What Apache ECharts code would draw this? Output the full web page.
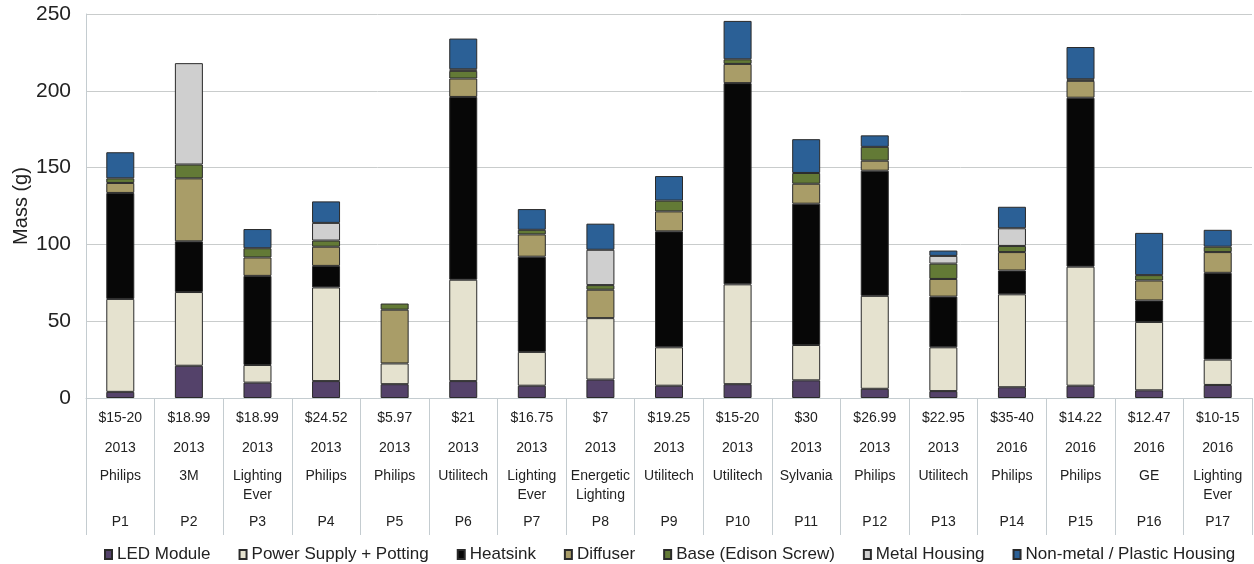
<!DOCTYPE html>
<html><head><meta charset="utf-8">
<script src="https://cdn.jsdelivr.net/npm/echarts@6/dist/echarts.min.js"></script>
<style>html,body{margin:0;padding:0;background:#fff}#c{width:1254px;height:564px}</style>
</head><body><div id="c"></div>
<script>
const categories = ['P1','P2','P3','P4','P5','P6','P7','P8','P9','P10','P11','P12','P13','P14','P15','P16','P17'];
const prices = ['$15-20','$18.99','$18.99','$24.52','$5.97','$21','$16.75','$7','$19.25','$15-20','$30','$26.99','$22.95','$35-40','$14.22','$12.47','$10-15'];
const years = ['2013','2013','2013','2013','2013','2013','2013','2013','2013','2013','2013','2013','2013','2016','2016','2016','2016'];
const brands = ['Philips','3M','Lighting\nEver','Philips','Philips','Utilitech','Lighting\nEver','Energetic\nLighting','Utilitech','Utilitech','Sylvania','Philips','Utilitech','Philips','Philips','GE','Lighting\nEver'];

const ledModule    = [4, 21, 10, 11, 9, 11, 8, 12, 8, 9, 11.5, 6, 4.5, 7, 8, 5, 8.5];
const powerSupply  = [60.5, 48, 11.5, 61, 13.5, 66, 22, 40, 25, 65, 23, 60.5, 28.5, 60.5, 77.5, 44.5, 16.5];
const heatsink     = [69, 33, 58, 14, 0, 119, 62, 0, 75.5, 131, 92, 81.5, 33, 15.5, 110, 14, 56.5];
const diffuser     = [6.5, 41, 12, 12.5, 35, 12, 14.5, 18.5, 13, 12.5, 13, 6.5, 11.5, 12, 11, 13, 13.5];
const base         = [3, 9, 6, 4, 4, 5, 3, 3, 7, 3, 7, 9, 10, 4, 1, 3.5, 3.5];
const metalHousing = [0, 66, 0, 11.5, 0, 1, 0, 23, 0, 0, 0, 0, 5, 11.5, 0, 0, 0];
const nonMetal     = [17, 0, 12.5, 14, 0, 20, 13.5, 17, 16, 25, 22, 7.5, 3.5, 14, 21, 27.5, 11];

const seriesDefs = [
  ['LED Module', ledModule, '#54426a'],
  ['Power Supply + Potting', powerSupply, '#e5e2cf'],
  ['Heatsink', heatsink, '#070707'],
  ['Diffuser', diffuser, '#a99d68'],
  ['Base (Edison Screw)', base, '#637a36'],
  ['Metal Housing', metalHousing, '#cfcfcf'],
  ['Non-metal / Plastic Housing', nonMetal, '#2b6096']
];

const chart = echarts.init(document.getElementById('c'));
chart.setOption({
  animation: false,
  textStyle: { fontFamily: 'Liberation Sans, Arial, sans-serif' },
  grid: { left: 86, right: 2, top: 14, bottom: 166, containLabel: false, outerBoundsMode: 'none' },
  legend: {
    top: 546, left: 104, padding: 0,
    itemWidth: 7, itemHeight: 9, itemGap: 28,
    icon: 'rect',
    textStyle: { fontSize: 17, color: '#222', fontFamily: 'Liberation Sans, Arial, sans-serif' },
    data: seriesDefs.map(s => s[0])
  },
  xAxis: {
    type: 'category',
    data: categories,
    axisLine: { show: true, lineStyle: { color: '#c4ccd0' } },
    axisTick: { show: true, interval: 0, length: 137, lineStyle: { color: '#c4ccd0' } },
    axisLabel: {
      interval: 0, margin: 8,
      formatter: function (v, i) {
        const b = brands[i].split('\n');
        return '{p|' + prices[i] + '}\n{y|' + years[i] + '}\n{b|' + b[0] + '}\n{c|' + (b[1] || ' ') + '}\n{n|' + v + '}';
      },
      rich: {
        p: { fontSize: 14, lineHeight: 24, color: '#222' },
        y: { fontSize: 14, lineHeight: 36, color: '#222' },
        b: { fontSize: 14, lineHeight: 20, color: '#222' },
        c: { fontSize: 14, lineHeight: 18, color: '#222' },
        n: { fontSize: 14, lineHeight: 36, color: '#222' }
      }
    }
  },
  yAxis: {
    type: 'value', min: 0, max: 250, interval: 50,
    name: 'Mass (g)', nameLocation: 'middle', nameGap: 55, nameRotate: 90, nameMoveOverlap: false,
    nameTextStyle: { fontSize: 20, color: '#222' },
    axisLine: { show: true, lineStyle: { color: '#c4ccd0' } },
    axisTick: { show: false },
    axisLabel: { fontSize: 21, color: '#222', margin: 15 },
    splitLine: { show: true, lineStyle: { color: '#c9cccc' } }
  },
  series: seriesDefs.map(s => ({
    name: s[0], type: 'bar', stack: 'total', barWidth: 28,
    data: s[1].map(v => v === 0 ? null : v),
    itemStyle: { color: s[2], borderColor: '#2a2a2a', borderWidth: 1 }
  }))
});
</script></body></html>
